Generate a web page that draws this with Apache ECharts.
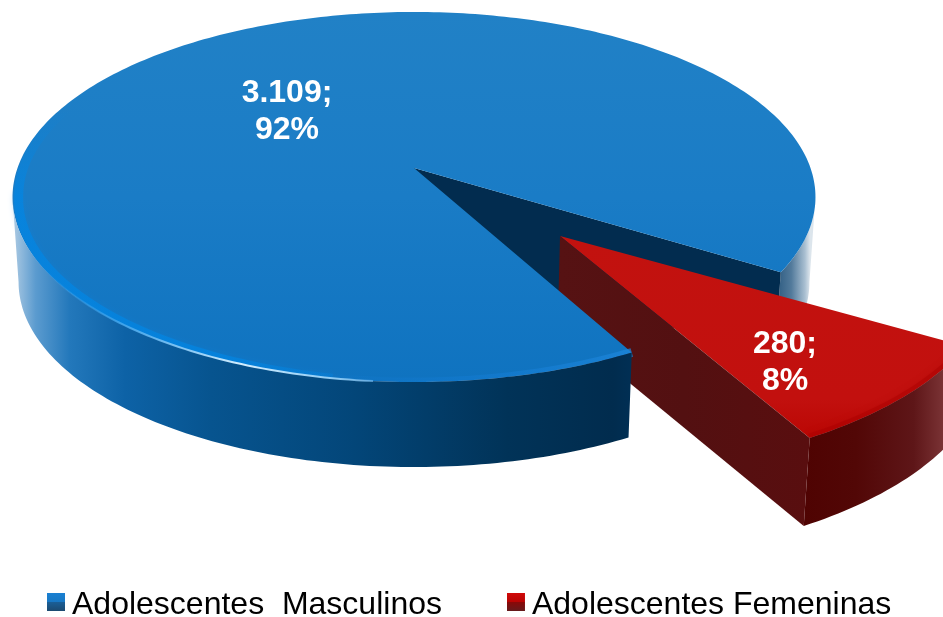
<!DOCTYPE html>
<html><head><meta charset="utf-8">
<style>html,body{margin:0;padding:0;background:#fff;overflow:hidden}#c{width:943px;height:617px}</style>
<script src="https://cdn.jsdelivr.net/npm/echarts@6/dist/echarts.min.js"></script>
</head><body><div id="c"></div>
<script>
const categories = ['Adolescentes  Masculinos', 'Adolescentes Femeninas'];
const values = [3109, 280];
const valueLabels = ['3.109', '280'];
const percentLabels = ['92%', '8%'];

const total = values.reduce((a, b) => a + b, 0);
const rad = Math.PI / 180;
const redStart = 32;                         // degrees, on the untilted disc
const redEnd = redStart + 360 * values[1] / total;
const blueView = { ox: 414, oy: 168, a: 396.5, b: 180.5, k: 0.1568, h: 85, shrink: 0.985, rot: 0 };
const redView  = { ox: 560, oy: 236, a: 424, b: 189, k: 0.206, h: 88, shrink: 0.985, cx: 414, rot: -0.6 };

function project(v, t, r) {
  r = r === undefined ? 1 : r;
  const c = Math.cos((t + v.rot) * rad) * r, s = Math.sin((t + v.rot) * rad) * r, d = 1 - v.k * s;
  return [v.ox + v.a * c / d, v.oy + v.b * s / d];
}
function low(v, p) {
  const cx = v.cx || v.ox;
  return [cx + (p[0] - cx) * v.shrink, p[1] + v.h];
}
function arc(v, t0, t1, r0, r1) {
  const out = [], n = Math.max(2, Math.ceil(Math.abs(t1 - t0)));
  r0 = r0 === undefined ? 1 : r0;
  r1 = r1 === undefined ? r0 : r1;
  for (let i = 0; i <= n; i++) out.push(project(v, t0 + (t1 - t0) * i / n, r0 + (r1 - r0) * i / n));
  return out;
}
function wall(pts, v) { return pts.concat(pts.map(p => low(v, p)).reverse()); }
function hGrad(x0, x1, stops) {
  return { type: 'linear', global: true, x: x0, y: 0, x2: x1, y2: 0,
    colorStops: stops.map(s => ({ offset: s[0], color: s[1] })) };
}
function vGrad(y0, y1, stops) {
  return { type: 'linear', global: true, x: 0, y: y0, x2: 0, y2: y1,
    colorStops: stops.map(s => ({ offset: s[0], color: s[1] })) };
}
const poly = (points, fill) => ({ type: 'polygon', silent: true, shape: { points }, style: { fill } });
const line = (points, stroke, w, extra) => ({ type: 'polyline', silent: true, shape: { points },
  style: Object.assign({ fill: 'none', stroke, lineWidth: w, lineCap: 'butt', lineJoin: 'round' }, extra || {}) });
const label = (i, x, y) => ({ type: 'text', silent: true, style: {
  x, y, text: valueLabels[i] + ';\n' + percentLabels[i], fill: '#fff',
  font: 'bold 32px "Liberation Sans", Arial, sans-serif', lineHeight: 37,
  textAlign: 'center', textVerticalAlign: 'middle' } });

function renderRed() {
  const v = redView, bv = blueView;
  const a = project(v, redStart, 0), rim = arc(v, redStart, redEnd);
  const notchA = [bv.ox, bv.oy], notchB = project(bv, redStart);
  const notch = [notchA, notchB, low(bv, notchB), low(bv, notchA)];
  const edge = rim[rim.length - 1];
  const side = [a, edge, low(v, edge), low(v, a)];
  const outer = wall(rim.slice().reverse(), v);
  const outerFill = hGrad(805, 950, [[0, '#4f0302'], [0.35, '#520706'], [0.75, '#5e1618'], [1, '#80393b']]);
  const sideFill = hGrad(560, 808, [[0, '#561213'], [0.5, '#531011'], [1, '#590e0f']]);
  return { type: 'group', children: [
    poly(wall(arc(bv, 9, redStart), bv), hGrad(776, 810, [[0, '#2c5a80'], [0.45, '#527a9b'], [0.85, '#a9bfd1'], [1, '#dce5ec']])),
    poly(notch, '#022c4f'),
    poly([a].concat(rim), vGrad(236, 440, [[0, '#c2120f'], [0.8, '#c2100e'], [1, '#ba0603']])),
    line(rim, 'rgba(170,0,0,0.45)', 9, { shadowBlur: 6, shadowColor: 'rgba(170,0,0,0.5)' }),
    poly(outer, outerFill),
    poly(side, sideFill),
    label(1, 785, 363)
  ] };
}
function renderBlue() {
  const v = blueView;
  const a = [v.ox, v.oy];
  const frontRim = arc(v, redEnd, 171);
  const whole = arc(v, redEnd, redStart + 360);
  const wallFill = hGrad(14, 631, [[0, '#a9c8e2'], [0.035, '#5b9bcf'], [0.09, '#2378bb'], [0.18, '#0d62a6'],
    [0.32, '#07548f'], [0.55, '#034679'], [0.8, '#013358'], [0.97, '#012c4e'], [1, '#012f54']]);
  const glow = { shadowBlur: 6, shadowColor: 'rgba(10,130,225,0.45)' };
  return { type: 'group', children: [
    poly([a].concat(whole), vGrad(12, 382, [[0, '#2181c6'], [0.5, '#1a7cc6'], [1, '#0f73c0']])),
    line(arc(v, redEnd, 105), hGrad(300, 632, [[0, 'rgba(20,125,215,0)'], [0.5, 'rgba(20,125,215,0.4)'], [1, 'rgba(30,135,220,0.7)']]), 9),
    line(arc(v, 100, 172, 1, 0.985), hGrad(20, 420, [[0, 'rgba(0,135,230,0.65)'], [0.5, 'rgba(0,135,230,0.65)'], [1, 'rgba(0,135,230,0)']]), 9, glow),
    line(arc(v, 172, 205, 0.985), vGrad(110, 195, [[0, 'rgba(0,135,230,0)'], [1, 'rgba(0,135,230,0.65)']]), 9),
    poly(wall(frontRim, v), wallFill),
    line(arc(v, 95, 165), hGrad(40, 440, [[0, 'rgba(50,160,240,0)'], [0.2, 'rgba(70,170,240,0.8)'], [0.5, 'rgba(210,238,255,1)'],
      [0.75, 'rgba(150,210,250,0.9)'], [1, 'rgba(60,150,230,0)']]), 2),
    label(0, 287, 112)
  ] };
}

const chart = echarts.init(document.getElementById('c'), null, { renderer: 'canvas' });
const legendBlue = { type: 'linear', x: 0, y: 0, x2: 0, y2: 1, colorStops: [
  { offset: 0, color: '#1a80d2' }, { offset: 0.5, color: '#1878c4' }, { offset: 0.5, color: '#1a5f98' }, { offset: 1, color: '#1c4a70' }] };
const legendRed = { type: 'linear', x: 0, y: 0, x2: 0, y2: 1, colorStops: [
  { offset: 0, color: '#d00a08' }, { offset: 0.5, color: '#b80404' }, { offset: 0.5, color: '#8a0808' }, { offset: 1, color: '#651a1c' }] };
const legendFont = { fontFamily: '"Liberation Sans", Arial, sans-serif', fontSize: 32, color: '#000' };
chart.setOption({
  animation: false,
  backgroundColor: '#fff',
  legend: {
    left: 47, top: 589, itemWidth: 18, itemHeight: 18, itemGap: 65, padding: 0,
    selectedMode: false, icon: 'rect',
    formatter: name => '{a|' + name + '}',
    textStyle: Object.assign({}, legendFont, { rich: { a: Object.assign({}, legendFont, { padding: [6, 0, 0, 2] }) } }),
    data: [
      { name: categories[0], itemStyle: { color: legendBlue } },
      { name: categories[1], itemStyle: { color: legendRed } }
    ]
  },
  series: [
    { type: 'custom', name: categories[1], coordinateSystem: 'none', silent: true, clip: false,
      data: [values[1]], renderItem: renderRed },
    { type: 'custom', name: categories[0], coordinateSystem: 'none', silent: true, clip: false,
      data: [values[0]], renderItem: renderBlue }
  ]
});
</script></body></html>
